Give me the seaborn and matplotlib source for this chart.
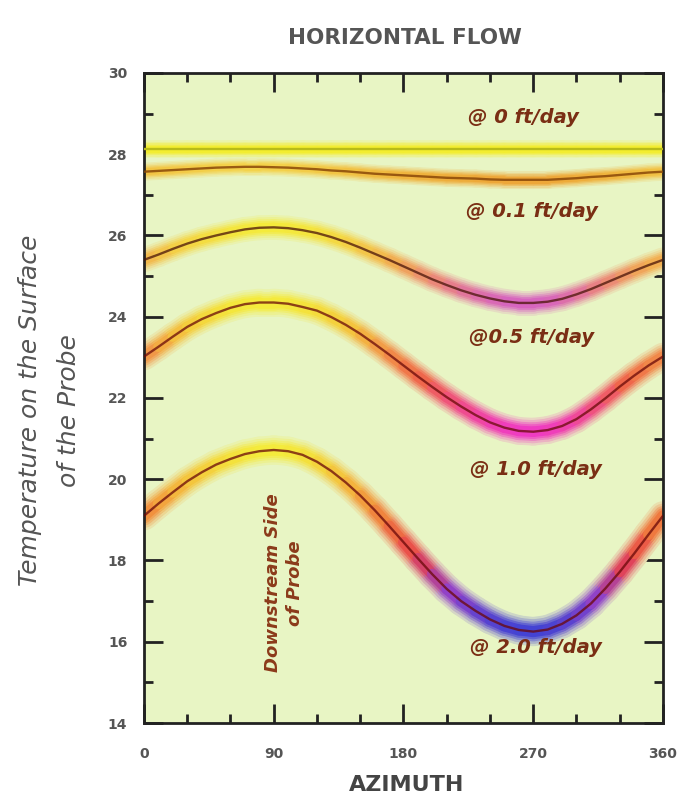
import numpy as np
import pandas as pd
import matplotlib
matplotlib.use("Agg")
import matplotlib.pyplot as plt
import seaborn as sns
from matplotlib.collections import LineCollection
from matplotlib.colors import LinearSegmentedColormap, Normalize, to_rgb
from matplotlib.ticker import MultipleLocator

# 数据
azimuth = [0, 10, 20, 30, 40, 50, 60, 70, 80, 90, 100, 110, 120, 130, 140, 150, 160, 170, 180,
           190, 200, 210, 220, 230, 240, 250, 260, 270, 280, 290, 300, 310, 320, 330, 340, 350, 360]
flow_labels = ["@ 0 ft/day", "@ 0.1 ft/day", "@0.5 ft/day", "@ 1.0 ft/day", "@ 2.0 ft/day"]
temp_0 = [28.12, 28.12, 28.12, 28.12, 28.12, 28.12, 28.12, 28.12, 28.12, 28.12, 28.12, 28.12, 28.12,
          28.12, 28.12, 28.12, 28.12, 28.12, 28.12, 28.12, 28.12, 28.12, 28.12, 28.12, 28.12, 28.12,
          28.12, 28.12, 28.12, 28.12, 28.12, 28.12, 28.12, 28.12, 28.12, 28.12, 28.12]
temp_01 = [27.57, 27.59, 27.61, 27.63, 27.65, 27.67, 27.68, 27.69, 27.69, 27.68, 27.67, 27.65, 27.63,
           27.60, 27.58, 27.55, 27.52, 27.50, 27.48, 27.46, 27.44, 27.42, 27.41, 27.40, 27.38, 27.37,
           27.37, 27.37, 27.37, 27.39, 27.41, 27.44, 27.46, 27.49, 27.52, 27.55, 27.57]
temp_05 = [25.40, 25.53, 25.67, 25.80, 25.91, 26.00, 26.08, 26.15, 26.19, 26.20, 26.18, 26.13, 26.06,
           25.96, 25.84, 25.70, 25.55, 25.40, 25.24, 25.08, 24.92, 24.78, 24.65, 24.54, 24.45, 24.38,
           24.34, 24.34, 24.37, 24.44, 24.55, 24.68, 24.83, 24.98, 25.13, 25.27, 25.40]
temp_10 = [23.02, 23.26, 23.51, 23.75, 23.94, 24.09, 24.22, 24.31, 24.35, 24.35, 24.32, 24.24, 24.15,
           23.99, 23.80, 23.58, 23.33, 23.07, 22.80, 22.53, 22.27, 22.02, 21.79, 21.58, 21.40, 21.27,
           21.19, 21.17, 21.21, 21.31, 21.48, 21.72, 21.99, 22.28, 22.55, 22.80, 23.02]
temp_20 = [19.10, 19.40, 19.68, 19.95, 20.17, 20.36, 20.50, 20.62, 20.69, 20.72, 20.69, 20.60, 20.43,
           20.20, 19.92, 19.60, 19.24, 18.85, 18.45, 18.05, 17.66, 17.30, 17.00, 16.76, 16.55, 16.39,
           16.29, 16.25, 16.30, 16.44, 16.65, 16.94, 17.31, 17.72, 18.17, 18.64, 19.10]
series = [temp_0, temp_01, temp_05, temp_10, temp_20]

# 标注位置
label_x = [263, 269, 269, 272, 272]
label_y = [28.9, 26.58, 23.48, 20.23, 15.87]

# 每条曲线的渐变颜色
grad_colors = [
    ["#f4ec22", "#f4ec22"],
    ["#eea02c", "#f5d040"],
    ["#d558c0", "#ea7a78", "#f2a44a", "#f5cc3c", "#f5ea30"],
    ["#f02cc2", "#f0427e", "#f05c3e", "#f28a3e", "#f5c232", "#f5ea30"],
    ["#3434d4", "#8a32c8", "#e83444", "#f07232", "#f5b232", "#f5ea30"],
]
center_colors = ["#b8bc18", "#8a4808", "#4a1408", "#6a0a08", "#6a0808"]
center_alpha = [1.0, 0.85, 0.75, 0.75, 0.75]
bg = "#e8f5c4"

df = pd.DataFrame({
    "azimuth": azimuth * len(series),
    "temp": np.concatenate(series),
    "flow": np.repeat(flow_labels, len(azimuth)),
})

sns.set_theme(style="ticks")
plt.rcParams["font.family"] = ["DejaVu Sans"]

fig = plt.figure(figsize=(6.77, 8.09), dpi=100)
ax = fig.add_axes([0.2127, 0.1063, 0.7666, 0.8035])
ax.set_facecolor(bg)


def mix(c, w):
    # 与背景色混合, 得到不透明的颜色
    c = np.array(to_rgb(c))
    b = np.array(to_rgb(bg))
    return tuple(c * (1 - w) + b * w)


# 光晕: 由宽到窄
widths = [(21, 0.84), (17.5, 0.66), (14, 0.45), (11, 0.25), (8, 0.08)]
for i, vals in enumerate(series):
    y = np.array(vals, dtype=float)
    x = np.array(azimuth, dtype=float)
    pts = np.column_stack([x, y])
    segs = np.stack([pts[:-1], pts[1:]], axis=1)
    mid = (y[:-1] + y[1:]) / 2
    cmap = LinearSegmentedColormap.from_list("c%d" % i, grad_colors[i])
    lo, hi = y.min(), y.max()
    norm = Normalize(lo, hi if hi > lo else lo + 1)
    base = [cmap(norm(v)) for v in mid]
    scale = [0.6, 0.62, 0.85, 0.95, 1.0][i]
    for lw, w in widths:
        cols = [mix(c[:3], w) for c in base]
        lc = LineCollection(segs, colors=cols, linewidths=lw * scale,
                            capstyle="round", joinstyle="round", zorder=2)
        ax.add_collection(lc)

for i, name in enumerate(flow_labels):
    sns.lineplot(data=df[df["flow"] == name], x="azimuth", y="temp", ax=ax,
                 color=center_colors[i], alpha=center_alpha[i], lw=1.7,
                 estimator=None, sort=False, legend=False, zorder=3)
    ax.text(label_x[i], label_y[i], name, ha="center", va="center",
            fontsize=14, fontweight="bold", fontstyle="italic",
            color="#7a2e14", zorder=4)

ax.text(97, 17.45, "Downstream Side\nof Probe", rotation=90, ha="center", va="center",
        multialignment="center", fontsize=13, fontweight="bold", fontstyle="italic",
        color="#8b3a1a", linespacing=1.3, zorder=4)

ax.set_xlim(0, 360)
ax.set_ylim(14, 30)
ax.xaxis.set_major_locator(MultipleLocator(90))
ax.xaxis.set_minor_locator(MultipleLocator(30))
ax.yaxis.set_major_locator(MultipleLocator(2))
ax.yaxis.set_minor_locator(MultipleLocator(1))
ax.tick_params(which="both", direction="in", top=True, right=True, color="#222222", width=2)
ax.tick_params(which="major", length=14)
ax.tick_params(which="minor", length=6.5)
ax.tick_params(axis="x", which="major", pad=17)
ax.tick_params(axis="y", which="major", pad=12)
for lab in ax.get_xticklabels() + ax.get_yticklabels():
    lab.set_fontsize(10)
    lab.set_fontweight("bold")
    lab.set_color("#555555")
for s in ax.spines.values():
    s.set_linewidth(2)
    s.set_color("#222222")
ax.set_xlabel("")
ax.set_ylabel("")

fig.text(0.598, 0.953, "HORIZONTAL FLOW", ha="center", va="center",
         fontsize=15.5, fontweight="bold", color="#555555")
fig.text(0.600, 0.030, "AZIMUTH", ha="center", va="center",
         fontsize=16, fontweight="bold", color="#444444")
fig.text(0.073, 0.493, "Temperature on the Surface\nof the Probe", rotation=90,
         ha="center", va="center", multialignment="center", fontsize=18,
         fontstyle="italic", color="#555555", linespacing=1.75)

plt.savefig("out.png", dpi=100, facecolor="white")
